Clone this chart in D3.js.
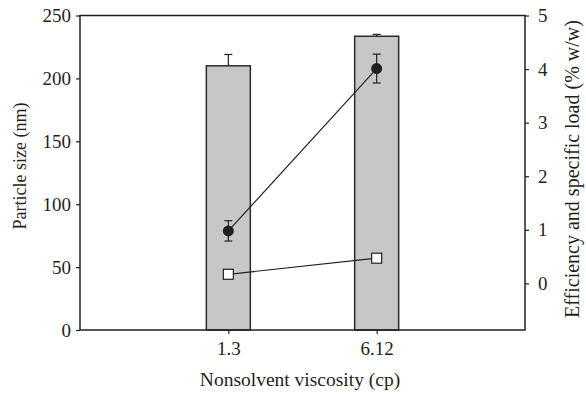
<!DOCTYPE html>
<html>
<head>
<meta charset="utf-8">
<script src="https://cdn.jsdelivr.net/npm/d3@7/dist/d3.min.js"></script>
<style>
  body { margin: 0; background: #fff; }
  svg { display: block; }
  text { font-family: "Liberation Serif", "DejaVu Serif", serif; fill: #231f20; }
</style>
</head>
<body>
<svg id="chart" width="586" height="396"></svg>
<script>
const categories = ["1.3", "6.12"];
const particleSize = [210, 233.5];
const particleSizeErr = [9, 1.5];
const efficiency = [0.98, 4.01];
const efficiencyErr = [0.19, 0.27];
const specificLoad = [0.17, 0.47];
const leftTicks = [0, 50, 100, 150, 200, 250];
const rightTicks = [0, 1, 2, 3, 4, 5];

const svg = d3.select("#chart");
const L = 80, R = 525, T = 15.5, B = 330;

const x = d3.scalePoint().domain(categories).range([L, R]).padding(1);
const yL = d3.scaleLinear().domain([0, 250]).range([B, T]);
const yR = d3.scaleLinear().domain([-0.87, 5]).range([B, T]);
const barW = 44;
const ink = "#231f20";

// bars
const g = svg.append("g");
categories.forEach((c, i) => {
  g.append("rect")
    .attr("x", x(c) - barW / 2)
    .attr("y", yL(particleSize[i]))
    .attr("width", barW)
    .attr("height", yL(0) - yL(particleSize[i]))
    .attr("fill", "#c6c7c9")
    .attr("stroke", "#2b2b2b")
    .attr("stroke-width", 1.5);
  const top = yL(particleSize[i] + particleSizeErr[i]);
  g.append("line").attr("x1", x(c)).attr("x2", x(c))
    .attr("y1", yL(particleSize[i])).attr("y2", top)
    .attr("stroke", ink).attr("stroke-width", 1.2);
  g.append("line").attr("x1", x(c) - 4).attr("x2", x(c) + 4)
    .attr("y1", top).attr("y2", top)
    .attr("stroke", ink).attr("stroke-width", 1.2);
});

// lines
const line = (arr) => d3.line().x((d, i) => x(categories[i])).y(d => yR(d))(arr);
svg.append("path").attr("d", line(efficiency)).attr("fill", "none").attr("stroke", ink).attr("stroke-width", 1.2);
svg.append("path").attr("d", line(specificLoad)).attr("fill", "none").attr("stroke", ink).attr("stroke-width", 1.2);

// efficiency error bars and markers
categories.forEach((c, i) => {
  const y1 = yR(efficiency[i] + efficiencyErr[i]);
  const y2 = yR(efficiency[i] - efficiencyErr[i]);
  svg.append("line").attr("x1", x(c)).attr("x2", x(c)).attr("y1", y1).attr("y2", y2)
    .attr("stroke", ink).attr("stroke-width", 1.2);
  [y1, y2].forEach(yy => svg.append("line").attr("x1", x(c) - 4).attr("x2", x(c) + 4)
    .attr("y1", yy).attr("y2", yy).attr("stroke", ink).attr("stroke-width", 1.2));
  svg.append("circle").attr("cx", x(c)).attr("cy", yR(efficiency[i])).attr("r", 5.5)
    .attr("fill", ink);
  svg.append("rect").attr("x", x(c) - 5).attr("y", yR(specificLoad[i]) - 5)
    .attr("width", 10).attr("height", 10)
    .attr("fill", "#fff").attr("stroke", ink).attr("stroke-width", 1.2);
});

// frame
svg.append("rect").attr("x", L).attr("y", T).attr("width", R - L).attr("height", B - T)
  .attr("fill", "none").attr("stroke", ink).attr("stroke-width", 1.5);

// axes
const axL = svg.append("g").attr("transform", `translate(${L},0)`)
  .call(d3.axisLeft(yL).tickValues(leftTicks).tickSize(4).tickPadding(5).tickFormat(d3.format("d")));
const axR = svg.append("g").attr("transform", `translate(${R},0)`)
  .call(d3.axisRight(yR).tickValues(rightTicks).tickSize(4).tickPadding(9).tickFormat(d3.format("d")));
const axB = svg.append("g").attr("transform", `translate(0,${B})`)
  .call(d3.axisBottom(x).tickSize(4).tickPadding(8));
[axL, axR, axB].forEach(a => {
  a.select(".domain").remove();
  a.selectAll("line").attr("stroke", ink).attr("stroke-width", 1.2);
  a.selectAll("text").attr("font-size", 19).attr("font-family", "Liberation Serif, serif").attr("fill", ink);
});

// titles
svg.append("text").attr("x", 300).attr("y", 386).attr("text-anchor", "middle")
  .attr("font-size", 19.5).text("Nonsolvent viscosity (cp)");
svg.append("text").attr("transform", "translate(26,166) rotate(-90)").attr("text-anchor", "middle")
  .attr("font-size", 18).text("Particle size (nm)");
svg.append("text").attr("transform", "translate(579,169) rotate(-90)").attr("text-anchor", "middle")
  .attr("font-size", 20).text("Efficiency and specific load (% w/w)");
</script>
</body>
</html>
